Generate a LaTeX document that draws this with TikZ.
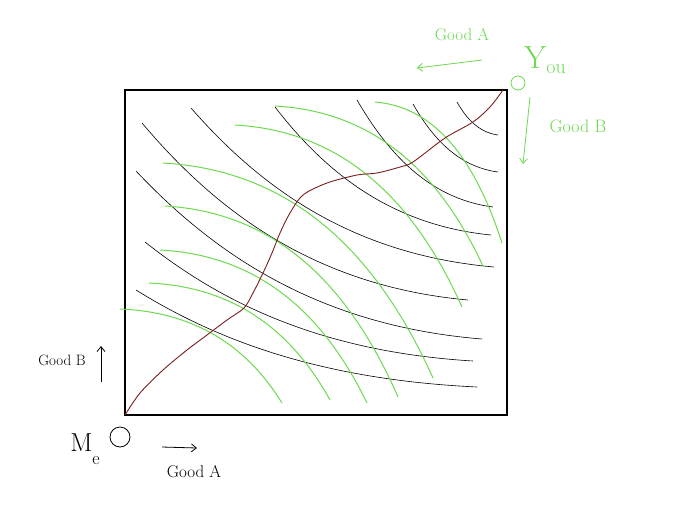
\documentclass[tikz,border=0pt]{standalone}
\usepackage{tikz}
\usetikzlibrary{arrows.meta,positioning,calc}
\definecolor{Leaf}{HTML}{6CD94F}
\definecolor{Maroon}{HTML}{7A1E1E}
\tikzset{
  lbl/.style={font=\fontsize{17}{19}\selectfont,inner sep=1pt},
  greenlbl/.style={lbl,text=Leaf},
  dirarrow/.style={-{Straight Barb[length=5pt,width=8pt]},line width=0.8pt},
}
\begin{document}
\begin{tikzpicture}[x=1pt,y=-1pt]
      \useasboundingbox (0,0) rectangle (696,504);
      % the box
      \coordinate (meO) at (125,415);
      \coordinate (youO) at (507,90);
      \draw[line width=1.2pt] (meO) rectangle (youO);
      % my indifference curves
      \foreach \xa/\ya/\xb/\yb in {
        457/102/498/135, 413/104/498/172, 357/100/493/207,
        275/107/491/235, 191/108/494/267, 142/123/468/300,
        136/171/482/339, 145/242/473/361, 136/290/477/387}{
        \draw[line width=0.6pt] (\xa,\ya) .. controls ({\xa+0.22*(\xb-\xa)},{\ya+0.48*(\yb-\ya)})
          and ({\xa+0.52*(\xb-\xa)},{\ya+0.92*(\yb-\ya)}) .. (\xb,\yb);
      }
      % your indifference curves
      \foreach \xa/\ya/\xb/\yb in {
        120/309/282/403, 149/283/330/400, 160/250/367/403,
        165/206/398/397, 163/163/433/378, 235/125/462/307,
        275/106/483/266, 375/102/502/243}{
        \draw[Leaf,line width=1pt] (\xa,\ya) .. controls ({\xa+0.42*(\xb-\xa)},{\ya+0.03*(\yb-\ya)})
          and ({\xa+0.76*(\xb-\xa)},{\ya+0.33*(\yb-\ya)}) .. (\xb,\yb);
      }
      % contract curve
      \draw[Maroon,line width=0.9pt] plot[smooth,tension=0.5] coordinates {
        (125,415) (140,393) (163,370) (187,350) (203,338) (227,320) (244,308)
        (253,293) (263,273) (272,253) (280,233) (290,213) (303,195) (327,183)
        (357,175) (377,173) (400,167) (413,162) (445,138) (473,122) (490,107) (503,90)};
      % origins
      \draw[line width=0.8pt] (120,437) circle (10);
      \draw[Leaf,line width=0.8pt] (518,83) circle (7);
      % labels, me
      \node[lbl] (meLbl) at (85,449) {\fontsize{26}{28}\selectfont M\raisebox{-1.2ex}{\fontsize{18}{20}\selectfont e}};
      \node[lbl,font=\fontsize{15}{17}\selectfont] (goodBme) at (62,360) {Good B};
      \coordinate (goodBmeTail) at (101,382);
      \coordinate (goodBmeTip) at (101,346);
      \draw[dirarrow] (goodBmeTail) -- (goodBmeTip);
      \node[lbl] (goodAme) at (194,472) {Good A};
      \coordinate (goodAmeTail) at (162,447);
      \coordinate (goodAmeTip) at (197,448);
      \draw[dirarrow] (goodAmeTail) -- (goodAmeTip);
      % labels, you
      \node[greenlbl] (youLbl) at (545,60) {\fontsize{32}{34}\selectfont Y\raisebox{-0.4ex}{\fontsize{20}{22}\selectfont ou}};
      \node[greenlbl] (goodAyou) at (462,35) {Good A};
      \coordinate (goodAyouTail) at (482,60);
      \coordinate (goodAyouTip) at (417,68);
      \draw[dirarrow,Leaf] (goodAyouTail) -- (goodAyouTip);
      \node[greenlbl,font=\fontsize{18}{20}\selectfont] (goodByou) at (578,126) {Good B};
      \coordinate (goodByouTail) at (530,97);
      \coordinate (goodByouTip) at (523,164);
      \draw[dirarrow,Leaf] (goodByouTail) -- (goodByouTip);
    \end{tikzpicture}
\end{document}
